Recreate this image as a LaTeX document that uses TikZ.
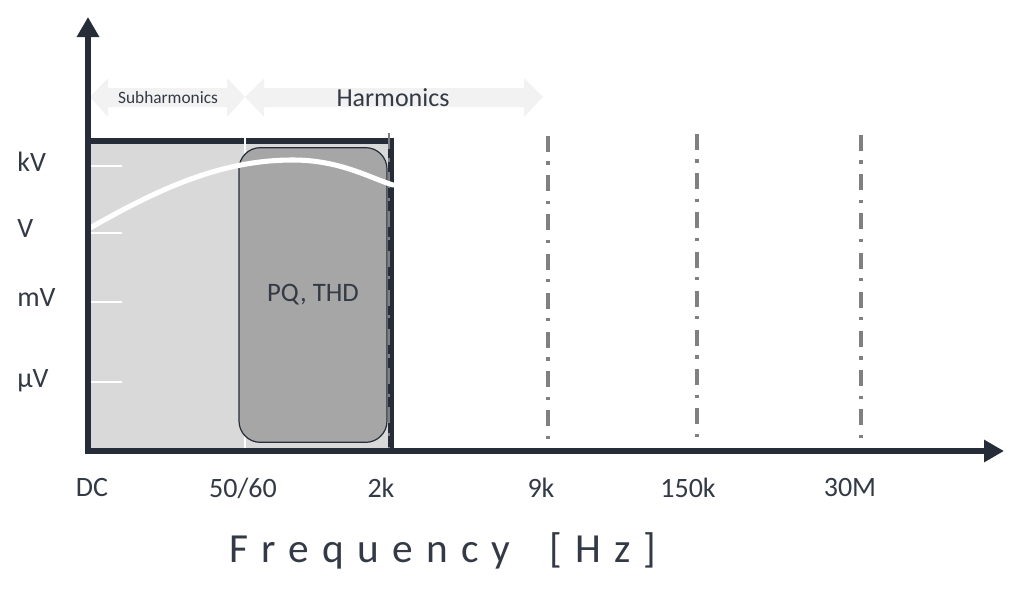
\documentclass[tikz,border=0pt]{standalone}
\usepackage{fontspec}
\setmainfont{Carlito}
\usetikzlibrary{arrows.meta}
\definecolor{axisc}{HTML}{262D38}
\definecolor{txtc}{HTML}{333A45}
\definecolor{boxfill}{HTML}{D9D9D9}
\definecolor{pqfill}{HTML}{A6A6A6}
\definecolor{dashc}{HTML}{808080}
\definecolor{arrfill}{HTML}{F2F2F2}
\begin{document}
\begin{tikzpicture}[x=0.75pt,y=-0.75pt,
  axisline/.style={axisc,line width=4.5pt,-{Triangle[length=15pt,width=16pt]}},
  dashdot/.style={dashc,line width=2.6pt,dash pattern=on 12pt off 7pt on 2.4pt off 8pt},
  ylab/.style={anchor=west,text=txtc,font=\fontsize{21}{25}\selectfont,inner sep=0pt},
  xlab/.style={anchor=center,text=txtc,font=\fontsize{21}{25}\selectfont,inner sep=0pt},
  tickw/.style={white,line width=2.2pt},
  bandarrow/.style={fill=arrfill,draw=none}]
\useasboundingbox (0,0) rectangle (1024,597);

% band arrows
\fill[bandarrow] (90,97) -- (108,78) -- (108,88) -- (227,88) -- (227,78) -- (245,97)
  -- (227,117) -- (227,107) -- (108,107) -- (108,117) -- cycle;
\fill[bandarrow] (245,97) -- (264,78) -- (264,88) -- (524,88) -- (524,78) -- (543,97)
  -- (524,117) -- (524,107) -- (264,107) -- (264,117) -- cycle;
\node[text=txtc,font=\fontsize{13}{15}\selectfont] (sub) at (168,98) {Subharmonics};
\node[text=txtc,font=\fontsize{19.5}{22}\selectfont] (harm) at (393,98) {Harmonics};

% main box
\fill[boxfill] (88,141) rectangle (391,451);
\draw[axisc,line width=3.8pt] (86,141) -- (391,141) -- (391,451);

% white ticks
\coordinate (tk1) at (90,166); \coordinate (tk1e) at (122,166);
\coordinate (tk2) at (90,233); \coordinate (tk2e) at (122,233);
\coordinate (tk3) at (90,302); \coordinate (tk3e) at (122,302);
\coordinate (tk4) at (90,382); \coordinate (tk4e) at (122,382);
\draw[tickw] (tk1) -- (tk1e);
\draw[tickw] (tk2) -- (tk2e);
\draw[tickw] (tk3) -- (tk3e);
\draw[tickw] (tk4) -- (tk4e);

% 50/60 white line
\coordinate (w1) at (245,130); \coordinate (w2) at (245,450);
\draw[white,line width=1.6pt] (w1) -- (w2);

% PQ box
\node[draw=axisc,line width=0.9pt,fill=pqfill,rounded corners=16pt,
  minimum width=111pt,minimum height=221pt,inner sep=0pt,
  text=txtc,font=\fontsize{20}{24}\selectfont] (pq) at (313,295) {PQ, THD};

% 2k dash line
\coordinate (d0a) at (389,133); \coordinate (d0b) at (389,451);
\draw[dashdot,line width=2pt] (d0a) -- (d0b);

% white curve
\coordinate (c0) at (90,228); \coordinate (c1) at (293,160); \coordinate (c2) at (393,185);
\draw[white,line width=3.8pt,line cap=round] (c0) .. controls (165,185) and (225,160) .. (c1)
  .. controls (340,160) and (370,178) .. (c2);

% dash-dot lines
\coordinate (d1a) at (548,136); \coordinate (d1b) at (548,451);
\coordinate (d2a) at (697,134); \coordinate (d2b) at (697,451);
\coordinate (d3a) at (861,135); \coordinate (d3b) at (861,451);
\draw[dashdot] (d1a) -- (d1b);
\draw[dashdot] (d2a) -- (d2b);
\draw[dashdot] (d3a) -- (d3b);

% axes
\coordinate (yb) at (88,453); \coordinate (yt) at (88,17);
\coordinate (xl) at (85,451); \coordinate (xr) at (1004,451);
\draw[axisline] (yb) -- (yt);
\draw[axisline] (xl) -- (xr);

% y labels
\node[ylab] (kv) at (17,162) {kV};
\node[ylab] (v) at (17,229) {V};
\node[ylab] (mv) at (17,298) {mV};
\node[ylab] (uv) at (17,381) {µV};

% x labels
\node[xlab] (dc) at (92,488) {DC};
\node[xlab] (f50) at (243,488) {50/60};
\node[xlab] (f2k) at (381,488) {2k};
\node[xlab] (f9k) at (541,488) {9k};
\node[xlab] (f150k) at (688,488) {150k};
\node[xlab] (f30m) at (850,488) {30M};

% axis title
\node[text=txtc,font=\fontsize{31}{36}\selectfont\addfontfeature{LetterSpace=32}] (freq) at (443,551) {Frequency\hspace{12pt} [Hz]};
\end{tikzpicture}
\end{document}
